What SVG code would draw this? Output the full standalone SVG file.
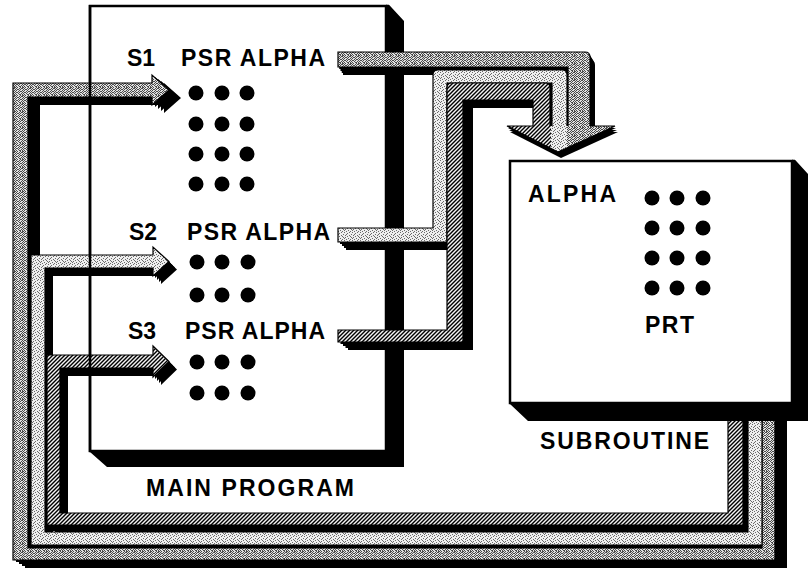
<svg xmlns="http://www.w3.org/2000/svg" xmlns:xlink="http://www.w3.org/1999/xlink" width="811" height="569" viewBox="0 0 811 569">
<style>
.t{font-family:"Liberation Sans",Arial,Helvetica,sans-serif;font-weight:bold;font-size:23px;fill:#000}
.box{fill:#fff;stroke:#000;stroke-width:2.5}
.band{stroke:#000;stroke-width:1.2;stroke-linejoin:miter}
</style>
<defs>
<pattern id="pDark" width="8" height="8" patternUnits="userSpaceOnUse">
<rect width="8" height="8" fill="#e2e2e2"/>
<path fill="#4a4a4a" d="M0,0h1v1h-1z M3,0h1v1h-1z M5,0h2v1h-2z M1,1h2v1h-2z M4,1h1v1h-1z M7,1h1v1h-1z M0,2h1v1h-1z M3,2h1v1h-1z M6,2h1v1h-1z M2,3h1v1h-1z M4,3h2v1h-2z M7,3h1v1h-1z M0,4h2v1h-2z M3,4h1v1h-1z M6,4h1v1h-1z M2,5h1v1h-1z M5,5h1v1h-1z M7,5h1v1h-1z M0,6h1v1h-1z M3,6h2v1h-2z M6,6h1v1h-1z M1,7h1v1h-1z M4,7h1v1h-1z M6,7h2v1h-2z"/>
</pattern>
<pattern id="pLight" width="8" height="8" patternUnits="userSpaceOnUse">
<rect width="8" height="8" fill="#efefef"/>
<path fill="#6a6a6a" d="M0,0h1v1h-1z M5,0h1v1h-1z M3,1h1v1h-1z M7,2h1v1h-1z M1,3h1v1h-1z M5,3h1v1h-1z M3,4h1v1h-1z M7,5h1v1h-1z M0,6h1v1h-1z M4,6h1v1h-1z M2,7h1v1h-1z M6,7h1v1h-1z M2,2h1v1h-1z M6,4h1v1h-1z M1,5h1v1h-1z"/>
</pattern>
<pattern id="pHatch" width="4" height="4" patternUnits="userSpaceOnUse">
<rect width="4" height="4" fill="#f4f4f4"/>
<path d="M-1,1L1,-1M0,4L4,0M3,5L5,3" stroke="#000" stroke-width="1.4"/>
</pattern>
<path id="dOut" d="M338,52 H585 Q590,52 590,57 V130 H568 V67 H338 Z"/>
<path id="lOut" d="M338,228 H433 V75 Q433,70 438,70 H562 Q567,70 567,75 V130 H552 V83 H447 V242 H338 Z"/>
<path id="hOut" d="M338,330 H447 V88 Q447,83 452,83 H545 Q550,83 550,88 V130 H533 V100 H463 V342 H338 Z"/>
<path id="dRet" d="M775,395 V560 H13 V83 H152 V75 L169,90 L152,105 V97 H28 V548 H762 V395 Z"/>
<path id="lRet" d="M762,395 V545 H31 V255 H153 V247 L169,261.5 L153,276 V268 H45 V532 H748 V395 Z"/>
<path id="hRet" d="M743,395 V525 H47 V355 H153 V346 L169,361.5 L153,377 V368 H60 V513 H728 V395 Z"/>
<path id="head" d="M507,126 H615 L558,152 Z"/>
</defs>
<rect width="811" height="569" fill="#fff"/>

<g id="main-program">
<rect class="box" x="90" y="6" width="296" height="445"/>
<polygon points="386,4.8 389,4.8 404,21 404,467 107,467 90,452 386,451" fill="#000"/>
<text class="t" x="127" y="66">S1</text>
<text class="t" x="181" y="66" textLength="144">PSR ALPHA</text>
<text class="t" x="129" y="240">S2</text>
<text class="t" x="187" y="240" textLength="143">PSR ALPHA</text>
<text class="t" x="128" y="339">S3</text>
<text class="t" x="185" y="339" textLength="140">PSR ALPHA</text>
<text class="t" x="146" y="496" textLength="208">MAIN PROGRAM</text>
<g fill="#000">
<circle cx="196" cy="93" r="7.5"/><circle cx="222" cy="93" r="7.5"/><circle cx="247" cy="93" r="7.5"/>
<circle cx="196" cy="124" r="7.5"/><circle cx="222" cy="124" r="7.5"/><circle cx="247" cy="124" r="7.5"/>
<circle cx="196" cy="154" r="7.5"/><circle cx="222" cy="154" r="7.5"/><circle cx="247" cy="154" r="7.5"/>
<circle cx="196" cy="184" r="7.5"/><circle cx="222" cy="184" r="7.5"/><circle cx="247" cy="184" r="7.5"/>
<circle cx="197" cy="262" r="7.5"/><circle cx="222" cy="262" r="7.5"/><circle cx="248" cy="262" r="7.5"/>
<circle cx="197" cy="295" r="7.5"/><circle cx="222" cy="295" r="7.5"/><circle cx="248" cy="295" r="7.5"/>
<circle cx="197" cy="362" r="7.5"/><circle cx="222" cy="362" r="7.5"/><circle cx="248" cy="362" r="7.5"/>
<circle cx="197" cy="393" r="7.5"/><circle cx="222" cy="393" r="7.5"/><circle cx="248" cy="393" r="7.5"/>
</g>
</g>

<g id="connectors">
<g id="shadows" fill="#000">
<use xlink:href="#dOut" transform="translate(1.25,2)"/><use xlink:href="#dOut" transform="translate(2.5,4)"/><use xlink:href="#dOut" transform="translate(3.75,6)"/><use xlink:href="#dOut" transform="translate(5,8)"/>
<use xlink:href="#lOut" transform="translate(2,2)"/><use xlink:href="#lOut" transform="translate(4,4)"/><use xlink:href="#lOut" transform="translate(6,6)"/><use xlink:href="#lOut" transform="translate(8,8)"/>
<use xlink:href="#hOut" transform="translate(2.5,2)"/><use xlink:href="#hOut" transform="translate(5,4)"/><use xlink:href="#hOut" transform="translate(7.5,6)"/><use xlink:href="#hOut" transform="translate(10,8)"/>
<use xlink:href="#dRet" transform="translate(3,2)"/><use xlink:href="#dRet" transform="translate(6,4)"/><use xlink:href="#dRet" transform="translate(9,6)"/><use xlink:href="#dRet" transform="translate(12,8)"/>
<use xlink:href="#lRet" transform="translate(2,2)"/><use xlink:href="#lRet" transform="translate(4,4)"/><use xlink:href="#lRet" transform="translate(6,6)"/><use xlink:href="#lRet" transform="translate(8,8)"/>
<use xlink:href="#hRet" transform="translate(2,2)"/><use xlink:href="#hRet" transform="translate(4,4)"/><use xlink:href="#hRet" transform="translate(6,6)"/><use xlink:href="#hRet" transform="translate(8,8)"/>
<use xlink:href="#head" transform="translate(1,2)"/><use xlink:href="#head" transform="translate(2,4)"/><use xlink:href="#head" transform="translate(3,6)"/>
</g>
<use xlink:href="#dOut" class="band" fill="url(#pDark)"/>
<use xlink:href="#lOut" class="band" fill="url(#pLight)"/>
<use xlink:href="#hOut" class="band" fill="url(#pHatch)"/>
<use xlink:href="#dRet" class="band" fill="url(#pDark)"/>
<use xlink:href="#lRet" class="band" fill="url(#pLight)"/>
<use xlink:href="#hRet" class="band" fill="url(#pHatch)"/>
<polygon points="507,126 551,126 551,148.4" fill="url(#pHatch)"/>
<polygon points="551,126 567,126 567,147.9 558,152 551,148.4" fill="url(#pLight)"/>
<polygon points="567,126 615,126 567,147.9" fill="url(#pDark)"/>
<path d="M533,126 H507 L558,152 L615,126 H590" fill="none" stroke="#000" stroke-width="1.2"/>
</g>

<g id="subroutine">
<rect class="box" x="510" y="161" width="282" height="242"/>
<polygon points="792,159.8 795,159.8 808,174 808,421 528,421 510,404 792,403" fill="#000"/>
<text class="t" x="528" y="202" textLength="88">ALPHA</text>
<text class="t" x="645" y="333" textLength="49">PRT</text>
<text class="t" x="540" y="449" textLength="169">SUBROUTINE</text>
<g fill="#000">
<circle cx="652" cy="198" r="7.5"/><circle cx="677" cy="198" r="7.5"/><circle cx="703" cy="198" r="7.5"/>
<circle cx="652" cy="228" r="7.5"/><circle cx="677" cy="228" r="7.5"/><circle cx="703" cy="228" r="7.5"/>
<circle cx="652" cy="258" r="7.5"/><circle cx="677" cy="258" r="7.5"/><circle cx="703" cy="258" r="7.5"/>
<circle cx="652" cy="288" r="7.5"/><circle cx="677" cy="288" r="7.5"/><circle cx="703" cy="288" r="7.5"/>
</g>
</g>

<g id="main-program-edge">
<line x1="90" y1="5" x2="90" y2="452" stroke="#000" stroke-width="2.5"/>
</g>
</svg>
